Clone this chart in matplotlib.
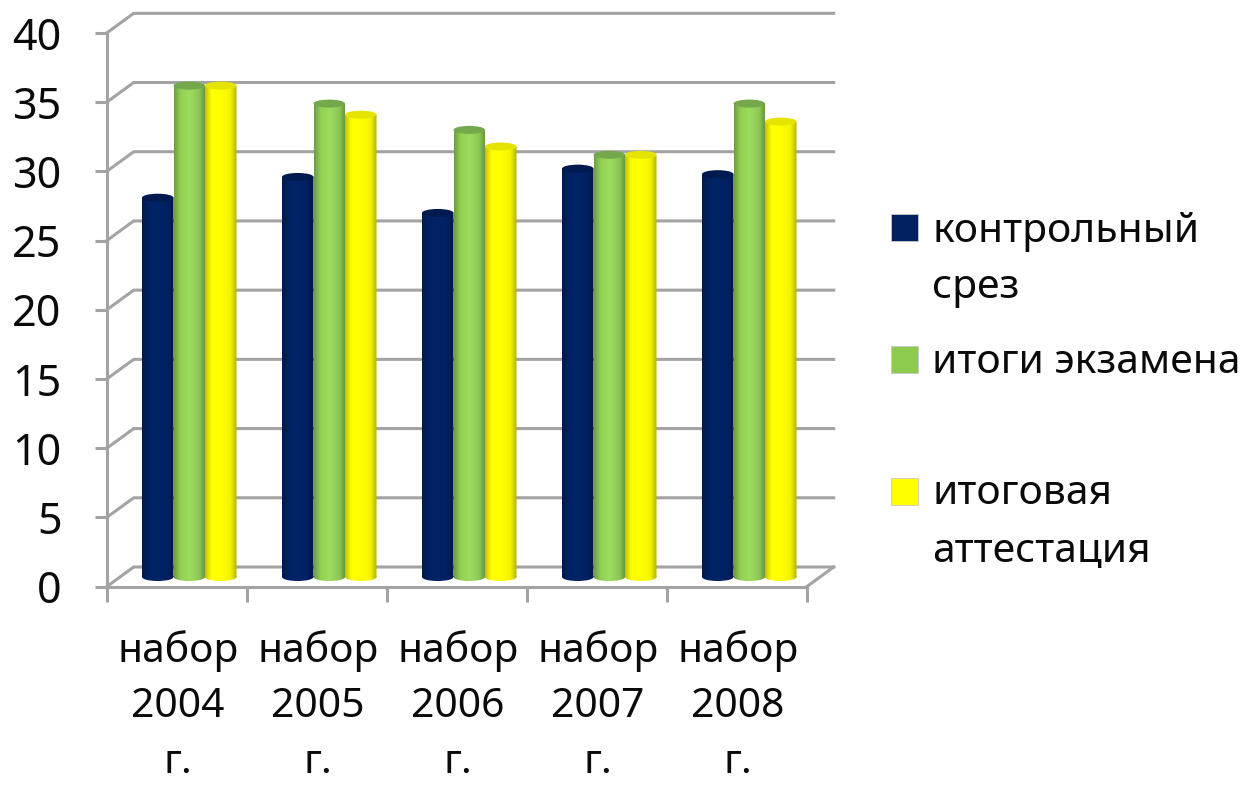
import numpy as np
import matplotlib
matplotlib.use('Agg')
import matplotlib.pyplot as plt
from matplotlib.colors import to_rgb
from matplotlib.patches import Ellipse, Rectangle
from matplotlib.path import Path
from matplotlib.transforms import Affine2D

categories = ['набор\n2004\nг.', 'набор\n2005\nг.', 'набор\n2006\nг.', 'набор\n2007\nг.', 'набор\n2008\nг.']
y_ticks = [0, 5, 10, 15, 20, 25, 30, 35, 40]
control = [27.4, 28.9, 26.3, 29.5, 29.1]
exam = [35.5, 34.2, 32.3, 30.5, 34.2]
final = [35.5, 33.4, 31.1, 30.5, 32.9]
series_names = ['контрольный\nсрез', 'итоги экзамена', 'итоговая\nаттестация']

W, H = 1246, 785
plt.rcParams['font.family'] = ['Noto Sans', 'DejaVu Sans']
TEXT = '#0a0a0a'
AXIS = '#a3a3a3'
FS = 29.4

# stops for the cylinder shading, left edge to right edge
shades = [
    ['#001a50', '#002263', '#002468', '#002060', '#00184a'],
    ['#6e9e45', '#92d050', '#9cdc60', '#8cc654', '#64903c'],
    ['#c4c400', '#ffff00', '#ffff00', '#f4f400', '#b4b400'],
]
top_colors = ['#001a50', '#74a84a', '#e4e400']
legend_colors = ['#002060', '#8ccb4e', '#ffff00']

fig = plt.figure(figsize=(W / 100, H / 100), dpi=100)
ax = fig.add_axes([106.7 / W, 1 - 586.7 / H, 700 / W, 553.7 / H])
ax.set_facecolor('none')

px_x = 700 / 5
px_y = 553.7 / 40
dx = 27 / px_x
dy = 19.7 / px_y

# back wall + left wall + floor
for v in y_ticks:
    ax.plot([0, dx, 5 + dx], [v, v + dy, v + dy], color=AXIS, lw=2.2, clip_on=False, zorder=1, solid_joinstyle='miter')
ax.plot([5, 5 + dx], [0, dy], color=AXIS, lw=2.2, clip_on=False, zorder=1)

# cylinders
bar_w = 31.5 / px_x
left_gap = 35.3 / px_x
base = 9.7 / px_y
ell_h = 8 / px_y
for j, values in enumerate([control, exam, final]):
    rgb = np.array([to_rgb(c) for c in shades[j]])
    t = np.linspace(0, 1, 40)
    grad = np.stack([np.interp(t, [0, 0.2, 0.5, 0.8, 1], rgb[:, k]) for k in range(3)], axis=1)[None, :, :]
    for i, v in enumerate(values):
        x0 = i + left_gap + j * bar_w
        x1 = x0 + bar_w
        top = base + v
        rect = Path([(x0, base), (x1, base), (x1, top), (x0, top), (x0, base)], closed=True)
        circ = Path.unit_circle().transformed(Affine2D().scale(bar_w / 2, ell_h / 2).translate((x0 + x1) / 2, base))
        im = ax.imshow(grad, extent=(x0, x1, base - ell_h, top), aspect='auto', interpolation='bilinear', zorder=3 + j * 0.1)
        im.set_clip_path(Path.make_compound_path(rect, circ), ax.transData)
        ax.add_patch(Ellipse(((x0 + x1) / 2, top), bar_w, ell_h, fc=top_colors[j], ec='none', zorder=3.05 + j * 0.1))

ax.set_xlim(0, 5)
ax.set_ylim(0, 40)
for s in ['top', 'right']:
    ax.spines[s].set_visible(False)
for s in ['left', 'bottom']:
    ax.spines[s].set_color(AXIS)
    ax.spines[s].set_linewidth(2.2)
    ax.spines[s].set_zorder(2)

ax.set_yticks(y_ticks)
ax.set_xticks(range(6))
ax.set_xticklabels([])
ax.set_xticks(np.arange(5) + 0.51, categories, minor=True)
ax.tick_params(axis='y', length=8.5, width=2.2, color=AXIS, labelsize=31, labelcolor=TEXT, pad=24)
ax.tick_params(axis='x', which='major', length=11, width=2.2, color=AXIS)
ax.tick_params(axis='x', which='minor', length=0, labelsize=FS, labelcolor=TEXT, pad=31)
for lab in ax.get_xticklabels(minor=True):
    lab.set_linespacing(1.52)

# legend
sw_tops = [214, 346, 478]
baselines = [[242, 298], [373], [504, 562]]
for name, c, sy, bl in zip(series_names, legend_colors, sw_tops, baselines):
    fig.add_artist(Rectangle((891 / W, 1 - (sy + 26.5) / H), 27 / W, 26.5 / H, fc=c, ec='#c8c8c8', lw=0.6, transform=fig.transFigure))
    for line, b in zip(name.split('\n'), bl):
        fig.text(932 / W, 1 - b / H, line, fontsize=FS, color=TEXT, ha='left', va='baseline')

plt.savefig('out.png', dpi=100)
